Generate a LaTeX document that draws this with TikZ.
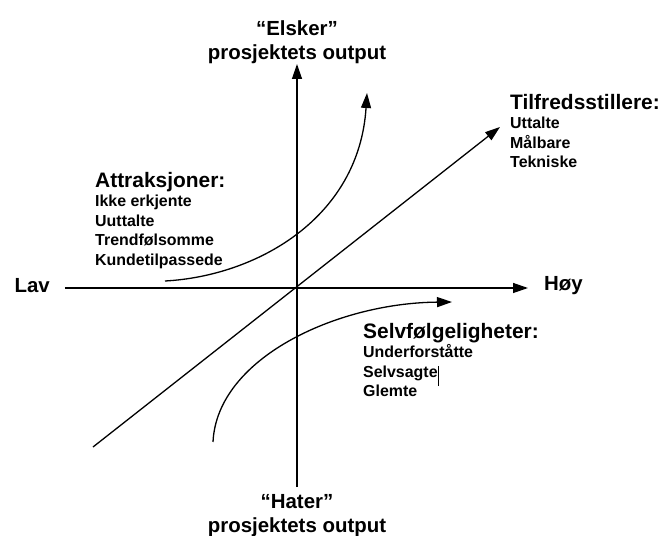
\documentclass[tikz,border=0pt]{standalone}
\usepackage{fontspec}
\setmainfont{Liberation Sans}
\usetikzlibrary{arrows.meta,positioning}

\begin{document}
\begin{tikzpicture}[
  x=1bp,y=1bp,
  font=\bfseries\fontsize{20.5}{24}\selectfont,
  axis/.style={line width=1.3bp,-{Triangle[length=15bp,width=10bp]}},
  curve/.style={axis},
  lbl/.style={inner sep=0pt,align=center},
  list/.style={inner sep=0pt,align=left,anchor=north west,font=\bfseries\fontsize{16}{19.5}\selectfont},
  node distance=8bp
]
\useasboundingbox (-297,-248) rectangle (363,288);
\coordinate (O) at (0,0);
\coordinate (lavend) at (-232,0);
\coordinate (hoyend) at (231,0);
\coordinate (topend) at (0,224);
\coordinate (botend) at (0,-199);
\coordinate (satstart) at (-204,-159);
\coordinate (satend) at (203,161);
\coordinate (attrstart) at (-132,7);
\coordinate (attrend) at (70,195);
\coordinate (selvstart) at (-84,-154);
\coordinate (selvend) at (155,-14);
% axes
\draw[axis] (lavend) -- (hoyend);
\draw[axis] (botend) -- (topend);
\node[lbl,left=15bp of lavend,yshift=2bp] (lav) {Lav};
\node[lbl,right=16bp of hoyend,yshift=2bp] (hoy) {Høy};
\node[lbl,above=0bp of topend] (elsker) {“Elsker”\\prosjektets output};
\node[lbl,below=7bp of botend] (hater) {“Hater”\\prosjektets output};
% curves
\draw[axis] (satstart) -- (satend);
\draw[curve] (attrstart) .. controls (-40,12) and (62,70) .. (attrend);
\draw[curve] (selvstart) .. controls (-80,-70) and (40,-15) .. (selvend);
% lists
\node[list] (attr) at (-202,116) {{\fontsize{21}{24}\selectfont Attraksjoner:}\\Ikke erkjente\\Uuttalte\\Trendfølsomme\\Kundetilpassede};
\node[list] (tilf) at (213,194) {{\fontsize{21}{24}\selectfont Tilfredsstillere:}\\Uttalte\\Målbare\\Tekniske};
\node[list] (selv) at (66,-35) {{\fontsize{21}{24}\selectfont Selvfølgeligheter:}\\Underforståtte\\Selvsagte\smash{\rule[-9bp]{0.8bp}{20bp}}\\Glemte};
\end{tikzpicture}
\end{document}
